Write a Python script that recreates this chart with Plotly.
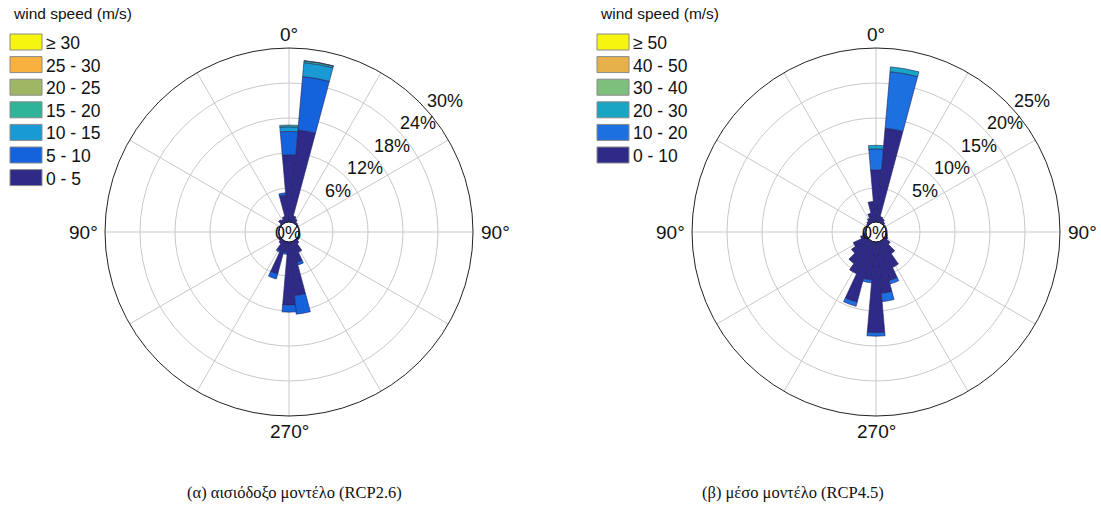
import math
import plotly.graph_objects as go

W, H = 1101, 507

directions = list(range(0, 360, 10))

# ---------------- left rose (RCP2.6) -----------------
left_bins = ["0 - 5", "5 - 10", "10 - 15", "15 - 20", "20 - 25", "25 - 30", "\u2265 30"]
left_colors = ["#2f2a87", "#1463dc", "#1a9ad4", "#2fb49a", "#9fb765", "#f8b13e", "#f6f50f"]
left_0_5 = [11.7, 16.0, 1.3, 0.9, 0.5, 0.4, 0.3, 0.3, 0.3, 0.3, 0.3, 0.3,
            0.4, 0.5, 0.9, 2.3, 3.8, 9.4, 11.0, 2.0, 5.9, 2.0, 0.9, 0.6,
            0.5, 0.3, 0.3, 0.3, 0.3, 0.3, 0.3, 0.4, 1.0, 0.8, 1.2, 4.8]
left_5_10 = [4.0, 9.2, 0, 0, 0, 0, 0, 0, 0, 0, 0, 0,
             0, 0, 0, 0, 0.5, 3.2, 1.2, 0.3, 0.9, 0.3, 0, 0,
             0, 0, 0, 0, 0, 0, 0, 0, 0, 0, 0, 0.4]
left_10_15 = [0.8, 2.4] + [0] * 34
left_15_20 = [0.3, 0.3] + [0] * 34
left_20_25 = [0, 0.05] + [0] * 34
left_25_30 = [0] * 36
left_ge_30 = [0] * 36
left_series = [left_0_5, left_5_10, left_10_15, left_15_20, left_20_25, left_25_30, left_ge_30]
left_ticks = [6, 12, 18, 24, 30]

# ---------------- right rose (RCP4.5) -----------------
right_bins = ["0 - 10", "10 - 20", "20 - 30", "30 - 40", "40 - 50", "\u2265 50"]
right_colors = ["#2f2a87", "#1c70df", "#18a6c4", "#7dbf7d", "#e6b04a", "#f6f50f"]
right_0_10 = [7.6, 13.6, 1.0, 0.8, 0.5, 0.3, 0.3, 0.3, 0.3, 0.3, 0.3, 0.4,
              0.6, 1.2, 2.5, 4.3, 5.9, 7.5, 13.1, 5.6, 9.1, 5.3, 4.2, 3.0,
              2.3, 1.0, 0.6, 0.3, 0.3, 0.3, 0.3, 0.4, 0.6, 0.9, 1.5, 3.1]
right_10_20 = [3.0, 8.1, 0, 0, 0, 0, 0, 0, 0, 0, 0, 0,
               0, 0, 0, 0, 0.5, 1.2, 0.5, 0.4, 0.6, 0, 0, 0,
               0, 0, 0, 0, 0, 0, 0, 0, 0, 0, 0, 0]
right_20_30 = [0.5, 0.7] + [0] * 34
right_30_40 = [0] * 36
right_40_50 = [0] * 36
right_ge_50 = [0] * 36
right_series = [right_0_10, right_10_20, right_20_30, right_30_40, right_40_50, right_ge_50]
right_ticks = [5, 10, 15, 20, 25]

angle_labels = ["0\u00b0", "90\u00b0", "270\u00b0", "90\u00b0"]  # top, right, bottom, left
captions = ["(\u03b1) \u03b1\u03b9\u03c3\u03b9\u03cc\u03b4\u03bf\u03be\u03bf \u03bc\u03bf\u03bd\u03c4\u03ad\u03bb\u03bf (RCP2.6)",
            "(\u03b2) \u03bc\u03ad\u03c3\u03bf \u03bc\u03bf\u03bd\u03c4\u03ad\u03bb\u03bf (RCP4.5)"]

# ---------------- layout geometry (pixels) -----------------
R = 184          # outer radius in px
HOLE_PX = 9      # radius of the 0% hole
centers = [(289, 232), (876, 232)]
legend_x = [10, 597]
caption_x = [294, 793]

FONT = "Liberation Sans, Arial, sans-serif"
SERIF = "Liberation Serif, Times New Roman, serif"
GRID = "#c9c9c9"

fig = go.Figure()
annotations = []
shapes = []


def px2paper(x, y):
    return x / W, 1 - y / H


def label(x, y, text, size, family=FONT, xanchor="center"):
    px, py = px2paper(x, y)
    annotations.append(dict(x=px, y=py, xref="paper", yref="paper", text=text,
                            showarrow=False, xanchor=xanchor, yanchor="middle",
                            font=dict(family=family, size=size, color="#111")))


for k, (series, bins, colors, ticks, (cx, cy)) in enumerate([
        (left_series, left_bins, left_colors, left_ticks, centers[0]),
        (right_series, right_bins, right_colors, right_ticks, centers[1])]):
    pname = "polar" if k == 0 else "polar2"
    for vals, name, col in zip(series, bins, colors):
        fig.add_trace(go.Barpolar(
            r=vals, theta=directions, width=[10] * len(directions),
            name=name, marker=dict(color=col, line=dict(color="#23235e", width=0.6)),
            subplot=pname, showlegend=False, hoverinfo="skip"))

    x0, x1 = (cx - R) / W, (cx + R) / W
    y0, y1 = 1 - (cy + R) / H, 1 - (cy - R) / H
    fig.layout[pname] = dict(
        domain=dict(x=[x0, x1], y=[y0, y1]),
        hole=HOLE_PX / R,
        bgcolor="rgba(0,0,0,0)",
        barmode="stack",
        angularaxis=dict(rotation=90, direction="clockwise", dtick=30,
                         showticklabels=False, ticks="", showgrid=True,
                         gridcolor=GRID, gridwidth=1, showline=True,
                         linecolor="#222222", linewidth=1),
        radialaxis=dict(range=[0, ticks[-1]], tickvals=ticks[:-1],
                        showticklabels=False, ticks="", showline=False,
                        showgrid=True, gridcolor=GRID, gridwidth=1),
    )

    # radial (%) labels
    step = (R - HOLE_PX) / ticks[-1]
    ang = math.radians(40)
    for t in ticks:
        rr = HOLE_PX + t * step + 20
        label(cx + rr * math.cos(ang), cy - rr * math.sin(ang), f"{t}%", 18)
    # hole border and 0% label
    hx0, hy0 = px2paper(cx - HOLE_PX - 1, cy - HOLE_PX - 1)
    hx1, hy1 = px2paper(cx + HOLE_PX + 1, cy + HOLE_PX + 1)
    shapes.append(dict(type="circle", xref="paper", yref="paper",
                       x0=hx0, x1=hx1, y0=hy1, y1=hy0,
                       line=dict(color="#111", width=1), fillcolor="white", layer="above"))
    label(cx - 1, cy + 1, "0%", 18)

    # angular labels
    offs = [(0, -(R + 14)), (R + 22, 0), (0, R + 15), (-(R + 22), 0)]
    for lab, (dx, dy) in zip(angle_labels, offs):
        label(cx + dx, cy + dy, lab, 19)

    # legend (drawn manually: title + swatches)
    lx = legend_x[k]
    label(lx + 1, 13, "wind speed (m/s)", 15.5, xanchor="left")
    for i, (name, col) in enumerate(zip(bins[::-1], colors[::-1])):
        yc = 42 + 22.6 * i
        sx0, sy0 = px2paper(lx, yc - 8)
        sx1, sy1 = px2paper(lx + 32, yc + 8)
        shapes.append(dict(type="rect", xref="paper", yref="paper", x0=sx0, x1=sx1,
                           y0=sy1, y1=sy0, fillcolor=col,
                           line=dict(color="#8a8a8a", width=1)))
        label(lx + 34, yc + 1, name, 17.5, xanchor="left")

    # caption
    label(caption_x[k], 492, captions[k], 16.5, family=SERIF)

fig.update_layout(width=W, height=H, margin=dict(l=0, r=0, t=0, b=0),
                  paper_bgcolor="white", plot_bgcolor="white",
                  showlegend=False, annotations=annotations, shapes=shapes)

fig.write_html("out.html")
